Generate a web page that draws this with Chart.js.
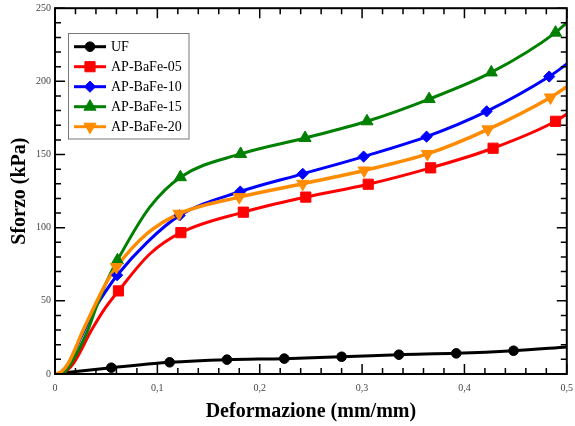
<!DOCTYPE html>
<html>
<head>
<meta charset="utf-8">
<script src="https://cdn.jsdelivr.net/npm/chart.js@4.4.0/dist/chart.umd.min.js"></script>
<style>
  html, body { margin: 0; padding: 0; background: #fff; }
  #wrap { width: 575px; height: 426px; }
</style>
</head>
<body>
<div id="wrap"><canvas id="chart" width="575" height="426"></canvas></div>
<script>
// series names, in legend order
const seriesNames = ['UF', 'AP-BaFe-05', 'AP-BaFe-10', 'AP-BaFe-15', 'AP-BaFe-20'];

// marker points (x = mm/mm, y = kPa)
const ufMarkX = [0.055, 0.112, 0.168, 0.224, 0.280, 0.336, 0.392, 0.448];
const ufMarkY = [4.3, 8.0, 9.8, 10.5, 11.8, 13.2, 14.1, 15.9];
const redMarkX = [0.062, 0.123, 0.184, 0.245, 0.306, 0.367, 0.428, 0.489];
const redMarkY = [56.8, 96.6, 110.6, 120.9, 129.7, 140.9, 154.3, 172.7];
const blueMarkX = [0.0607, 0.1218, 0.181, 0.242, 0.3015, 0.363, 0.4217, 0.4828];
const blueMarkY = [67.5, 108.4, 124.7, 136.8, 148.6, 162.2, 179.5, 203.3];
const greenMarkX = [0.061, 0.1225, 0.1813, 0.2443, 0.3048, 0.3655, 0.4262, 0.489];
const greenMarkY = [77.7, 134.5, 150.4, 161.3, 172.7, 187.9, 206.1, 233.3];
const orangeMarkX = [0.060, 0.1212, 0.180, 0.242, 0.302, 0.3638, 0.423, 0.484];
const orangeMarkY = [73.1, 109.5, 120.9, 130.0, 139.1, 150.4, 167.2, 189.0];

// extra points on the smooth curves (start, between first markers, end)
const ufLineX = [0, 0.5];
const ufLineY = [0, 18.5];
const redLineX = [0, 0.008, 0.018, 0.0357, 0.048, 0.0926, 0.5];
const redLineY = [0, 0.8, 7.3, 30, 44, 82, 177.7];
const blueLineX = [0, 0.006, 0.013, 0.028, 0.04, 0.05, 0.09, 0.5];
const blueLineY = [0, 1.2, 7, 29, 46, 57, 90, 211.8];
const greenLineX = [0, 0.008, 0.0146, 0.0315, 0.041, 0.0504, 0.0926, 0.5];
const greenLineY = [0, 0.8, 6.1, 29, 47, 63, 114, 240.2];
const orangeLineX = [0, 0.006, 0.013, 0.0276, 0.039, 0.049, 0.09, 0.5];
const orangeLineY = [0, 1.5, 7.3, 30, 47, 61, 96, 196.3];

// axis ticks
const xMajor = [0, 0.1, 0.2, 0.3, 0.4, 0.5];
const xMinor = [0.02, 0.04, 0.06, 0.08, 0.12, 0.14, 0.16, 0.18, 0.22, 0.24, 0.26, 0.28,
                0.32, 0.34, 0.36, 0.38, 0.42, 0.44, 0.46, 0.48];
const yMajor = [0, 50, 100, 150, 200, 250];
const yMinor = [10, 20, 30, 40, 60, 70, 80, 90, 110, 120, 130, 140, 160, 170, 180, 190,
                210, 220, 230, 240];

const colors = ['#000000', '#ff0000', '#0000ff', '#008000', '#ff8c00'];
const markStyles = [
    { pointStyle: 'circle', radius: 4.8, rotation: 0 },
    { pointStyle: 'rect', radius: 7.2, rotation: 0 },
    { pointStyle: 'rectRot', radius: 5.6, rotation: 0 },
    { pointStyle: 'triangle', radius: 7, rotation: 0 },
    { pointStyle: 'triangle', radius: 7, rotation: 180 }
];

const markX = [ufMarkX, redMarkX, blueMarkX, greenMarkX, orangeMarkX];
const markY = [ufMarkY, redMarkY, blueMarkY, greenMarkY, orangeMarkY];
const lineX = [ufLineX, redLineX, blueLineX, greenLineX, orangeLineX];
const lineY = [ufLineY, redLineY, blueLineY, greenLineY, orangeLineY];

function toPoints(xs, ys) {
    return xs.map((x, i) => ({ x: x, y: ys[i] }));
}

const datasets = [];
seriesNames.forEach((name, i) => {
    const pts = toPoints(lineX[i], lineY[i]).concat(toPoints(markX[i], markY[i]));
    pts.sort((a, b) => a.x - b.x);
    datasets.push({
        label: name,
        data: pts,
        borderColor: colors[i],
        borderWidth: i === 4 ? 3.5 : 3,
        pointRadius: 0,
        cubicInterpolationMode: 'monotone',
        fill: false,
        order: 20 - i
    });
});
seriesNames.forEach((name, i) => {
    datasets.push({
        label: name + ' markers',
        data: toPoints(markX[i], markY[i]),
        showLine: false,
        pointStyle: markStyles[i].pointStyle,
        pointRadius: markStyles[i].radius,
        rotation: markStyles[i].rotation,
        pointBackgroundColor: colors[i],
        pointBorderColor: colors[i],
        pointBorderWidth: 1,
        order: 10 - i
    });
});

const serif = "'Liberation Serif', 'DejaVu Serif', serif";

const frameTicks = {
    id: 'frameTicks',
    afterDatasetsDraw(chart) {
        const { ctx, chartArea: a, scales } = chart;
        ctx.save();
        ctx.strokeStyle = '#000';
        ctx.lineWidth = 1.5;
        ctx.beginPath();
        const tick = (vals, len) => {
            vals.forEach(v => {
                const px = scales.x.getPixelForValue(v);
                ctx.moveTo(px, a.bottom); ctx.lineTo(px, a.bottom - len);
                ctx.moveTo(px, a.top); ctx.lineTo(px, a.top + len);
            });
        };
        const tickY = (vals, len) => {
            vals.forEach(v => {
                const py = scales.y.getPixelForValue(v);
                ctx.moveTo(a.left, py); ctx.lineTo(a.left + len, py);
                ctx.moveTo(a.right, py); ctx.lineTo(a.right - len, py);
            });
        };
        tick(xMajor, 10); tick(xMinor, 6);
        tickY(yMajor, 10); tickY(yMinor, 6);
        ctx.stroke();
        ctx.lineWidth = 2;
        ctx.strokeRect(a.left, a.top, a.right - a.left, a.bottom - a.top);
        ctx.restore();
    }
};

const boxLegend = {
    id: 'boxLegend',
    afterDraw(chart) {
        const ctx = chart.ctx;
        ctx.save();
        ctx.fillStyle = '#fff';
        ctx.fillRect(68.5, 33.5, 120.5, 105.5);
        ctx.strokeStyle = '#777';
        ctx.lineWidth = 1;
        ctx.strokeRect(68.5, 33.5, 120.5, 105.5);
        seriesNames.forEach((name, i) => {
            const y = 46.7 + i * 20;
            ctx.strokeStyle = colors[i];
            ctx.fillStyle = colors[i];
            ctx.lineWidth = 3;
            ctx.beginPath();
            ctx.moveTo(74, y); ctx.lineTo(106, y);
            ctx.stroke();
            ctx.lineWidth = 1;
            Chart.helpers.drawPoint(ctx, {
                pointStyle: markStyles[i].pointStyle,
                radius: markStyles[i].radius,
                rotation: markStyles[i].rotation,
                borderWidth: 1
            }, 90, y);
            ctx.fillStyle = '#000';
            ctx.font = '14px ' + serif;
            ctx.textBaseline = 'middle';
            ctx.textAlign = 'left';
            ctx.fillText(name, 111, y + 0.5);
        });
        ctx.restore();
    }
};

new Chart(document.getElementById('chart'), {
    type: 'line',
    data: { datasets: datasets },
    options: {
        responsive: false,
        animation: false,
        devicePixelRatio: 1,
        layout: { padding: { top: 8, right: 7, left: 0, bottom: 0 } },
        plugins: { legend: { display: false }, tooltip: { enabled: false } },
        scales: {
            x: {
                type: 'linear',
                min: 0, max: 0.5,
                afterFit: s => { s.height = 52; s.paddingLeft = 0; s.paddingRight = 0; },
                grid: { display: false, drawTicks: false },
                border: { display: false },
                ticks: {
                    stepSize: 0.1,
                    padding: 8,
                    color: '#444',
                    font: { family: serif, size: 10 },
                    maxRotation: 0,
                    callback: v => v === 0 ? '0' : v.toFixed(1).replace('.', ',')
                },
                title: {
                    display: true,
                    text: 'Deformazione (mm/mm)',
                    color: '#000',
                    font: { family: serif, size: 20, weight: 'bold' },
                    padding: { top: 0, bottom: 2 }
                }
            },
            y: {
                min: 0, max: 250,
                afterFit: s => { s.width = 55; s.paddingTop = 0; s.paddingBottom = 0; },
                grid: { display: false, drawTicks: false },
                border: { display: false },
                ticks: {
                    stepSize: 50,
                    padding: 4,
                    color: '#444',
                    font: { family: serif, size: 10 }
                },
                title: {
                    display: true,
                    text: 'Sforzo (kPa)',
                    color: '#000',
                    font: { family: serif, size: 20, weight: 'bold' },
                    padding: { top: 8, bottom: 0 }
                }
            }
        }
    },
    plugins: [frameTicks, boxLegend]
});
</script>
</body>
</html>
